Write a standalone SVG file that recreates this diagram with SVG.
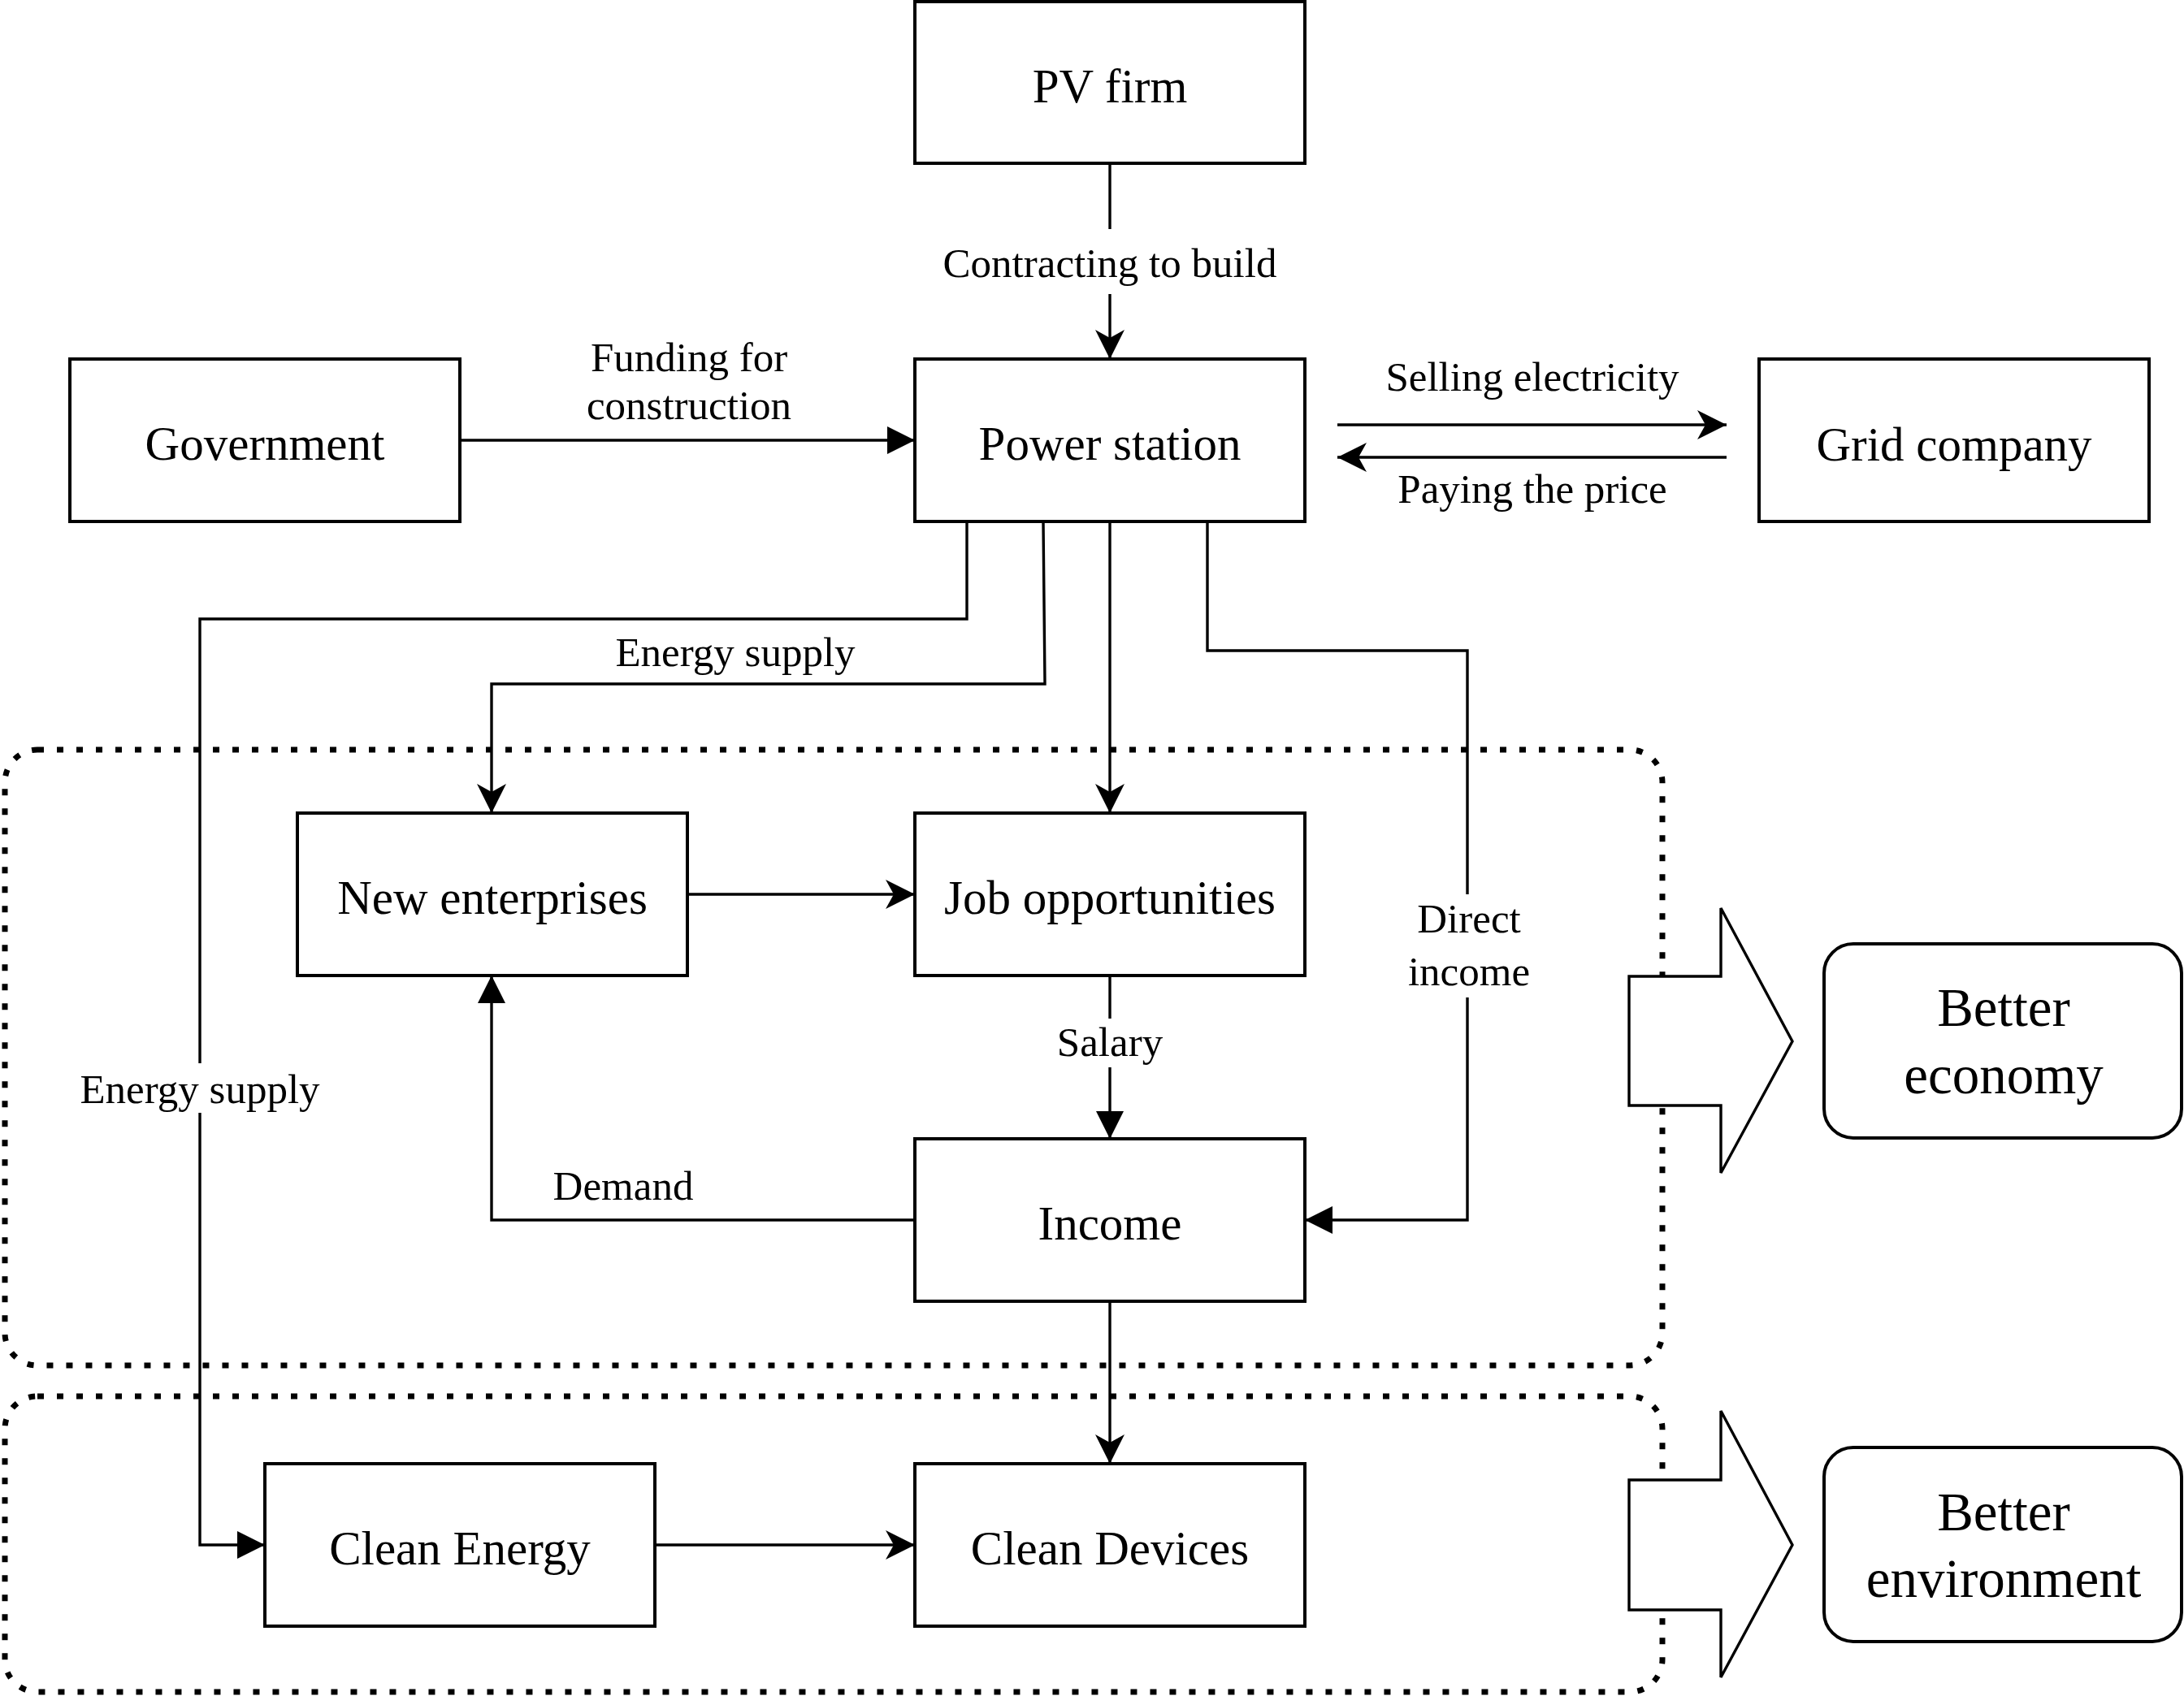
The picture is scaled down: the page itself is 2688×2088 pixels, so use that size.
<svg xmlns="http://www.w3.org/2000/svg" width="2688" height="2088" viewBox="0 0 2688 2088">
<style>
.box{fill:#fff;stroke:#000;stroke-width:4}
.rbox{fill:#fff;stroke:#000;stroke-width:4}
.grp{fill:none;stroke:#000;stroke-width:7;stroke-dasharray:8 16}
.big{fill:#fff;stroke:#000;stroke-width:3.4;stroke-linejoin:miter}
.e{fill:none;stroke:#000;stroke-width:3.4}
.ec{marker-end:url(#classic)}
.eb{marker-end:url(#block)}
.t{font-family:"Liberation Serif","Times New Roman",serif;font-size:59px;text-anchor:middle;fill:#000}
.l{font-family:"Liberation Serif","Times New Roman",serif;font-size:51px;text-anchor:middle;fill:#000}
.g{font-family:"Liberation Serif","Times New Roman",serif;font-size:67px;text-anchor:middle;fill:#000}
</style>
<defs>
<marker id="classic" markerUnits="userSpaceOnUse" viewBox="0 0 36 36" refX="36" refY="18" markerWidth="36" markerHeight="36" orient="auto">
<path d="M36,18 L0,0 L10,18 L0,36 Z" fill="#000"/>
</marker>
<marker id="block" markerUnits="userSpaceOnUse" viewBox="0 0 34 34" refX="34" refY="17" markerWidth="34" markerHeight="34" orient="auto">
<path d="M0,0 L34,17 L0,34 Z" fill="#000"/>
</marker>
</defs>
<rect width="2688" height="2088" fill="#fff"/>

<g id="group-economy"><rect class="grp" x="6" y="923" width="2040" height="758" rx="40"/></g>
<g id="group-environment"><rect class="grp" x="6" y="1719" width="2040" height="364" rx="40"/></g>

<g id="arrow-economy"><polygon class="big" points="2005,1202 2118,1202 2118,1118 2206,1282 2118,1444 2118,1361 2005,1361"/></g>
<g id="arrow-environment"><polygon class="big" points="2005,1822 2118,1822 2118,1737 2206,1902 2118,2065 2118,1982 2005,1982"/></g>

<g id="connectors">
<path class="e" d="M1366,202 V282"/>
<path class="e ec" d="M1366,362 V442"/>
<text class="l" x="1366" y="341">Contracting to build</text>

<path class="e eb" d="M566,542 H1126"/>
<text class="l" x="848" y="457">Funding for</text>
<text class="l" x="848" y="516">construction</text>

<path class="e ec" d="M1646,523 H2125"/>
<text class="l" x="1886" y="481">Selling electricity</text>
<path class="e ec" d="M2125,563 H1646"/>
<text class="l" x="1886" y="619">Paying the price</text>

<path class="e ec" d="M1284,642 L1286,842 H605 V1001"/>
<text class="l" x="905" y="820">Energy supply</text>

<path class="e" d="M1190,642 V762 H246 V1309"/>
<path class="e eb" d="M246,1370 V1902 H326"/>
<text class="l" x="246" y="1358">Energy supply</text>

<path class="e ec" d="M1366,642 V1001"/>

<path class="e" d="M1486,642 V801 H1806 V1101"/>
<path class="e eb" d="M1806,1228 V1502 H1606"/>
<text class="l" x="1808" y="1148">Direct</text>
<text class="l" x="1808" y="1213">income</text>

<path class="e ec" d="M846,1101 H1126"/>

<path class="e" d="M1366,1201 V1254"/>
<path class="e eb" d="M1366,1314 V1402"/>
<text class="l" x="1366" y="1300">Salary</text>

<path class="e eb" d="M1126,1502 H605 V1201"/>
<text class="l" x="767" y="1477">Demand</text>

<path class="e ec" d="M1366,1602 V1802"/>
<path class="e ec" d="M806,1902 H1126"/>
</g>

<g id="node-pv-firm"><rect class="box" x="1126" y="2" width="480" height="199"/><text class="t" x="1366" y="126">PV firm</text></g>
<g id="node-government"><rect class="box" x="86" y="442" width="480" height="200"/><text class="t" x="326" y="566">Government</text></g>
<g id="node-power-station"><rect class="box" x="1126" y="442" width="480" height="200"/><text class="t" x="1366" y="566">Power station</text></g>
<g id="node-grid-company"><rect class="box" x="2165" y="442" width="480" height="200"/><text class="t" x="2405" y="567">Grid company</text></g>
<g id="node-new-enterprises"><rect class="box" x="366" y="1001" width="480" height="200"/><text class="t" x="606" y="1125">New enterprises</text></g>
<g id="node-job-opportunities"><rect class="box" x="1126" y="1001" width="480" height="200"/><text class="t" x="1366" y="1125">Job opportunities</text></g>
<g id="node-income"><rect class="box" x="1126" y="1402" width="480" height="200"/><text class="t" x="1366" y="1526">Income</text></g>
<g id="node-clean-energy"><rect class="box" x="326" y="1802" width="480" height="200"/><text class="t" x="566" y="1926">Clean Energy</text></g>
<g id="node-clean-devices"><rect class="box" x="1126" y="1802" width="480" height="200"/><text class="t" x="1366" y="1926">Clean Devices</text></g>
<g id="node-better-economy"><rect class="rbox" x="2245" y="1162" width="440" height="239" rx="36"/><text class="g" x="2466" y="1263">Better</text><text class="g" x="2466" y="1346">economy</text></g>
<g id="node-better-environment"><rect class="rbox" x="2245" y="1782" width="440" height="239" rx="36"/><text class="g" x="2466" y="1884">Better</text><text class="g" x="2466" y="1966">environment</text></g>
</svg>
